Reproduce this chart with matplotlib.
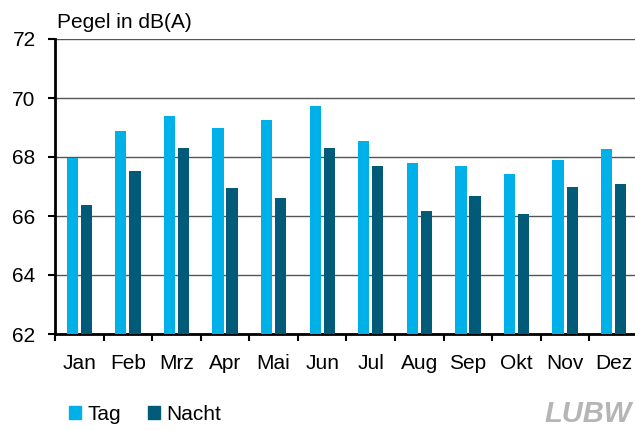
import matplotlib
matplotlib.use("Agg")
import matplotlib.pyplot as plt
import numpy as np
from matplotlib.patches import Patch

months = ["Jan", "Feb", "Mrz", "Apr", "Mai", "Jun", "Jul", "Aug", "Sep", "Okt", "Nov", "Dez"]
tag = [67.95, 68.88, 69.39, 68.98, 69.25, 69.73, 68.54, 67.80, 67.70, 67.42, 67.90, 68.27]
nacht = [66.37, 67.53, 68.30, 66.95, 66.62, 68.30, 67.70, 66.17, 66.68, 66.07, 66.98, 67.08]
yticks = [62, 64, 66, 68, 70, 72]

c_tag = "#00B0E8"
c_nacht = "#005A78"

plt.rcParams['font.family'] = ['Liberation Sans', 'DejaVu Sans']
fs = 15

fig = plt.figure(figsize=(6.35, 4.3), dpi=100)
ax = fig.add_axes([55/635, 1-334/430, 583/635, (334-39)/430])

x = np.arange(len(months))
w = 0.23
ax.bar(x - 0.145, tag, width=w, color=c_tag, zorder=3)
ax.bar(x + 0.145, nacht, width=w, color=c_nacht, zorder=3)

ax.set_xlim(-0.5, len(months) - 0.5)
ax.set_ylim(62, 72)
ax.set_yticks(yticks)
ax.set_yticklabels([str(v) for v in yticks], fontsize=fs)
ax.yaxis.grid(True, color="#555555", linewidth=1.0, zorder=0)
ax.set_axisbelow(True)

ax.set_xticks(x)
ax.set_xticklabels(months, fontsize=fs)
ax.set_xticks(np.arange(-0.5, len(months) + 0.5, 1), minor=True)
ax.tick_params(axis='x', which='major', length=0, pad=14.5)
ax.tick_params(axis='x', which='minor', length=5, width=1.5, direction='out')
ax.tick_params(axis='y', length=5, width=1.5, direction='out', pad=9)

for s in ['top', 'right']:
    ax.spines[s].set_visible(False)
ax.spines['left'].set_linewidth(2)
ax.spines['bottom'].set_linewidth(2)

fig.text(57/635, 1-28/430, "Pegel in dB(A)", fontsize=fs, va='baseline', ha='left')

handles = [Patch(color=c_tag, label="Tag"), Patch(color=c_nacht, label="Nacht")]
fig.legend(handles=handles, loc='center left', bbox_to_anchor=(69/635, 1-414/430),
           ncol=2, frameon=False, fontsize=fs, handlelength=0.58, handleheight=0.58,
           handletextpad=0.3, columnspacing=1.3, borderaxespad=0, borderpad=0)

fig.text(632/635, 1-428/430, "LUBW", fontsize=21, fontweight='bold', fontstyle='italic',
         color="#B5B5B5", ha='right', va='bottom')

fig.savefig("out.png", dpi=100)
